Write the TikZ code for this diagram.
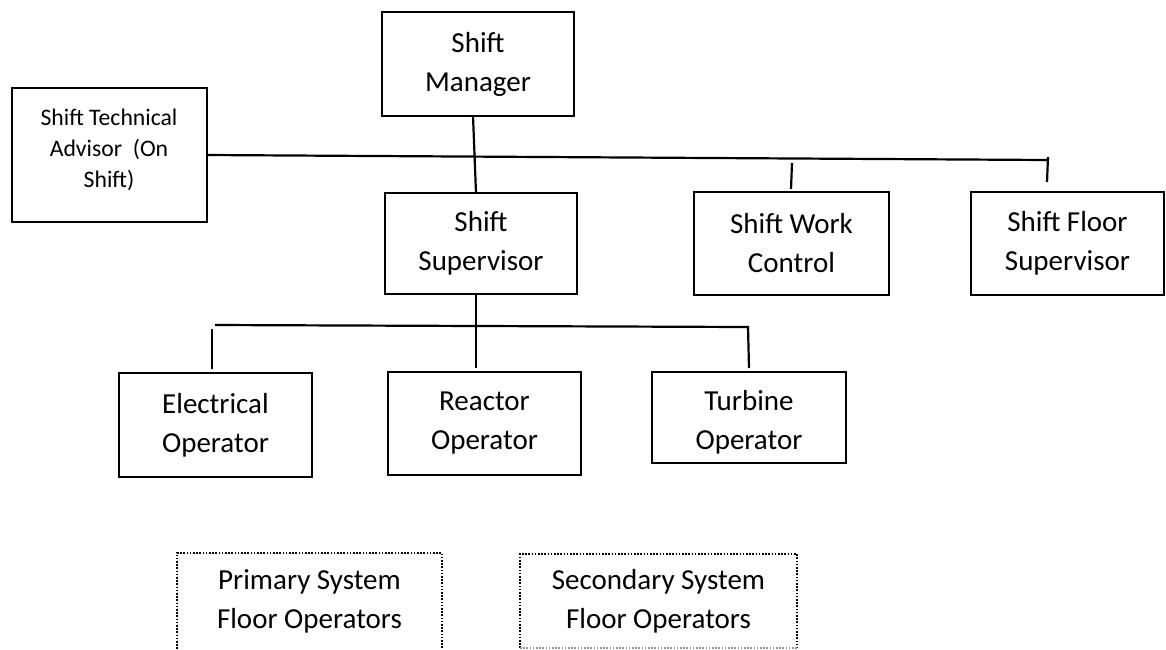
\documentclass[tikz,border=0pt]{standalone}
\usepackage{fontspec}
\setmainfont{Carlito}
\usetikzlibrary{calc}
\begin{document}
\begin{tikzpicture}[x=1pt,y=-1pt,
  orgbox/.style={draw, line width=2.6pt, rectangle, inner sep=0pt, outer sep=0pt,
    align=center, font=\fontsize{29pt}{39pt}\selectfont},
  note/.style={align=center, inner sep=0pt, font=\fontsize{29pt}{39pt}\selectfont},
  smallnote/.style={align=center, inner sep=0pt, font=\fontsize{23.7pt}{31pt}\selectfont},
  floorbox/.style={rectangle, inner sep=0pt, outer sep=0pt, align=center,
    font=\fontsize{29pt}{39pt}\selectfont},
  link/.style={line width=2.2pt},
  dotline/.style={line width=2pt, dash pattern=on 1.6pt off 1.6pt},
]
\useasboundingbox (0,0) rectangle (1166,649);
\fill[white] (0,0) rectangle (1166,649);

% management level
\node[orgbox, minimum width=192, minimum height=104] (sm) at (478,64) {Shift\\Manager};
\node[orgbox, minimum width=195, minimum height=134] (sta) at (109.5,155) {};
\node[smallnote] (staText) at (109,150) {Shift Technical\\Advisor\ \ (On\\Shift)};

% supervision level
\node[orgbox, minimum width=192, minimum height=101] (ss) at (481,243.5) {Shift\\Supervisor};
\node[orgbox, minimum width=195, minimum height=103] (swc) at (791.5,243.5) {Shift Work\\Control};
\node[orgbox, minimum width=193, minimum height=103] (fs) at (1067.5,243.5) {Shift Floor\\Supervisor};

% operator level
\node[orgbox, minimum width=193, minimum height=104] (eo) at (215.5,425) {Electrical\\Operator};
\node[orgbox, minimum width=193, minimum height=103] (ro) at (484.5,423.5) {Reactor\\Operator};
\node[orgbox, minimum width=194, minimum height=91] (to) at (749,417.5) {};
\node[note] (toText) at (749,422) {Turbine\\Operator};

% floor operator groups
\node[floorbox, minimum width=265, minimum height=96] (psf) at (309.5,601) {Primary System\\Floor Operators};
\node[floorbox, minimum width=277, minimum height=94] (ssf) at (658.5,601) {Secondary System\\Floor Operators};
\draw[dotline] (psf.south west) -- (psf.north west) -- (psf.north east) -- (psf.south east);
\draw[dotline] (ssf.south west) -- (ssf.north west) -- (ssf.north east) -- (ssf.south east);
\draw[dotline, black!40, line width=1.2pt] (ssf.south west) -- (ssf.south east);

% upper connectors
\coordinate (busEnd) at (1048,160);
\draw[link] (sta.east) -- (busEnd);
\draw[link] ($(sm.south)+(-5,0)$) -- ($(ss.north)+(-5,0)$);
\draw[link] ($(swc.north)+(0.5,-29)$) -- ($(swc.north)+(-0.5,-3)$);
\draw[link] ($(fs.north)+(-19.5,-35)$) -- ($(fs.north)+(-20.5,-10)$);

% lower connectors
\coordinate (busL) at (215,325);
\coordinate (busR) at (748,327);
\draw[link] ($(ss.south)+(-5,0)$) -- ($(ro.north)+(-8.5,-4)$);
\draw[link] (busL) -- (busR) -- ($(to.north)+(0,-4)$);
\draw[link] ($(eo.north)+(-3.5,-44)$) -- ($(eo.north)+(-3.5,-4)$);
\end{tikzpicture}
\end{document}
